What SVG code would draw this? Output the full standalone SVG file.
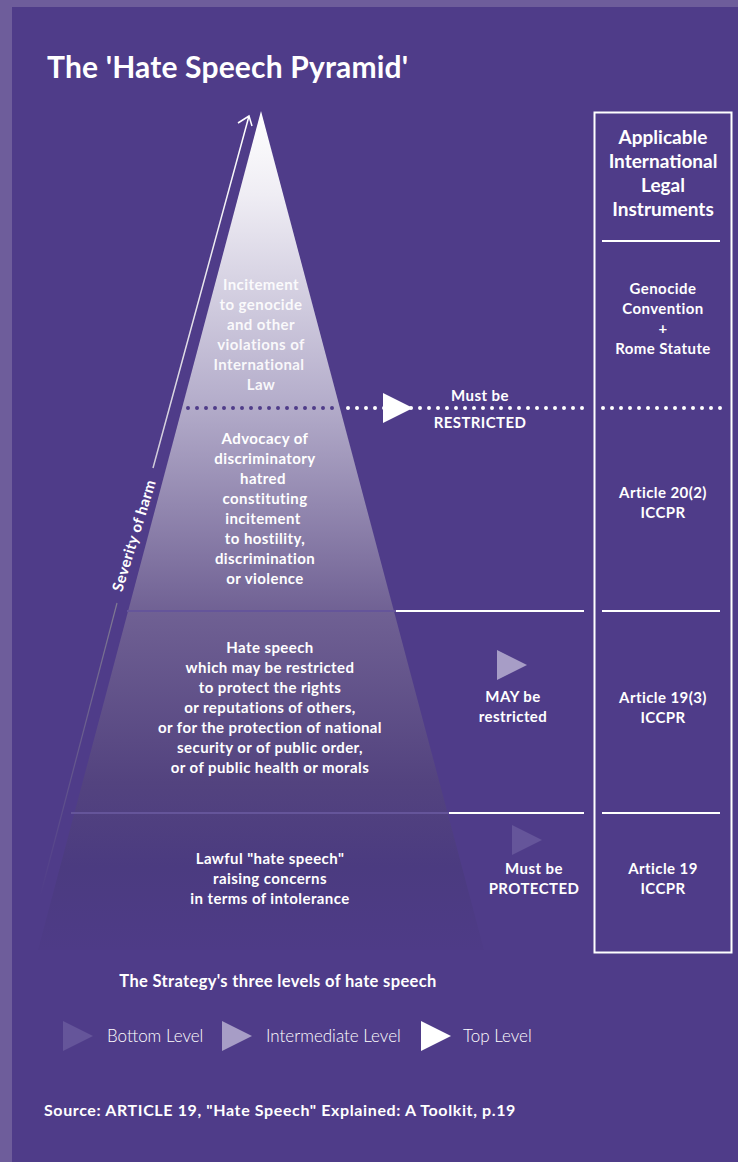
<svg xmlns="http://www.w3.org/2000/svg" width="738" height="1162" viewBox="0 0 738 1162">
<style>
text{font-family:"Lato","Liberation Sans",sans-serif;fill:#fff;text-anchor:middle;font-weight:700;font-size:15px;letter-spacing:.42px}
.t{font-size:30px;text-anchor:start;letter-spacing:.17px}
.h{font-size:19px;letter-spacing:0}
.l{font-weight:300;font-size:17px;text-anchor:start;letter-spacing:0}
.w{stroke:#fff;stroke-width:2;fill:none}
.d{stroke:#fff;stroke-width:4;stroke-linecap:round;stroke-dasharray:0 9;fill:none}
.p{stroke:#65559a;stroke-width:2;fill:none}
</style>
<defs>
<linearGradient id="g" gradientUnits="userSpaceOnUse" x1="0" y1="111" x2="0" y2="950">
<stop offset="0" stop-color="#fff"/><stop offset=".1" stop-color="#efedf4"/><stop offset=".34" stop-color="#b6afcc"/><stop offset=".6" stop-color="#6f6093"/><stop offset=".8" stop-color="#53437f"/><stop offset=".9" stop-color="#4b3b80"/><stop offset="1" stop-color="#4e3b87"/>
</linearGradient>
<linearGradient id="a" gradientUnits="userSpaceOnUse" x1="249" y1="116" x2="153" y2="468">
<stop offset="0" stop-color="#fff"/><stop offset="1" stop-color="#cfcad9"/>
</linearGradient>
<linearGradient id="b" gradientUnits="userSpaceOnUse" x1="117" y1="603" x2="40" y2="897">
<stop offset="0" stop-color="#807a92"/><stop offset="1" stop-color="#4f3c89"/>
</linearGradient>
<polygon id="tri" points="0,-15 0,15 30,0"/>
</defs>
<rect width="738" height="1162" fill="#6e5d9b"/>
<rect x="12" y="7" width="726" height="1155" fill="#4f3c89"/>
<text class="t" x="47" y="78">The 'Hate Speech Pyramid'</text>
<g id="pyramid">
<polygon points="261,111 484,950 38,950" fill="url(#g)"/>
<g style="opacity:.9">
<text x="261" y="290">Incitement</text><text x="261" y="310">to genocide</text><text x="261" y="330">and other</text><text x="261" y="350">violations of</text><text x="259" y="370">International</text><text x="261" y="390">Law</text>
</g>
<text x="265" y="444">Advocacy of</text><text x="265" y="464">discriminatory</text><text x="263" y="484">hatred</text><text x="265" y="504">constituting</text><text x="263" y="524">incitement</text><text x="265" y="544">to hostility,</text><text x="265" y="564">discrimination</text><text x="265" y="584">or violence</text>
<text x="270" y="653">Hate speech</text><text x="270" y="673">which may be restricted</text><text x="270" y="693">to protect the rights</text><text x="270" y="713">or reputations of others,</text><text x="270" y="733">or for the protection of national</text><text x="270" y="753">security or of public order,</text><text x="270" y="773">or of public health or morals</text>
<text x="270" y="864">Lawful "hate speech"</text><text x="270" y="884">raising concerns</text><text x="270" y="904">in terms of intolerance</text>
</g>
<g id="severity">
<text x="0" y="0" transform="translate(139,537) rotate(-73)">Severity of harm</text>
</g>
<g id="connectors">
<path d="M153,468L249,116M238,123L249,116L252,126" fill="none" stroke="url(#a)" stroke-width="1.500"/>
<path d="M117,603L40,897" fill="none" stroke="url(#b)" stroke-width="1.200"/>
<path class="d" d="M188,408H333" style="stroke:#4f3c89"/>
<path class="d" d="M348,408H583"/>
<path class="d" d="M603,408H722"/>
<path class="p" d="M127,611H396M71,813H449"/>
<path class="w" d="M396,611H584M449,813H584M602,241H720M602,611H720M602,813H720"/>
</g>
<g id="instruments">
<rect class="w" x="594.500" y="112.500" width="137" height="840"/>
<text class="h" x="663" y="144">Applicable</text><text class="h" x="663" y="168">International</text><text class="h" x="663" y="192">Legal</text><text class="h" x="663" y="216">Instruments</text>
<text x="663" y="294">Genocide</text><text x="663" y="314">Convention</text><text x="663" y="334">+</text><text x="663" y="354">Rome Statute</text>
<text x="663" y="498">Article 20(2)</text><text x="663" y="518">ICCPR</text>
<text x="663" y="703">Article 19(3)</text><text x="663" y="723">ICCPR</text>
<text x="663" y="874">Article 19</text><text x="663" y="894">ICCPR</text>
</g>
<g id="restricted">
<use href="#tri" x="383" y="408" fill="#fff"/>
<text x="480" y="401">Must be</text><text x="480" y="428">RESTRICTED</text>
</g>
<g id="may">
<use href="#tri" x="497" y="665" fill="#a79dc6"/>
<text x="513" y="702">MAY be</text><text x="513" y="722">restricted</text>
</g>
<g id="protected">
<use href="#tri" x="512" y="840" fill="#65559a"/>
<text x="534" y="874">Must be</text><text x="534" y="894">PROTECTED</text>
</g>
<g id="legend">
<text x="278" y="987" style="font-size:16.500px;letter-spacing:.34px">The Strategy's three levels of hate speech</text>
<use href="#tri" x="63" y="1036" fill="#65559a"/><text class="l" x="107" y="1042">Bottom Level</text>
<use href="#tri" x="222" y="1036" fill="#a79dc6"/><text class="l" x="266" y="1042">Intermediate Level</text>
<use href="#tri" x="421" y="1036" fill="#fff"/><text class="l" x="463" y="1042">Top Level</text>
</g>
<text x="44" y="1116" style="text-anchor:start;font-size:16px;letter-spacing:.62px">Source: ARTICLE 19, "Hate Speech" Explained: A Toolkit, p.19</text>
</svg>
